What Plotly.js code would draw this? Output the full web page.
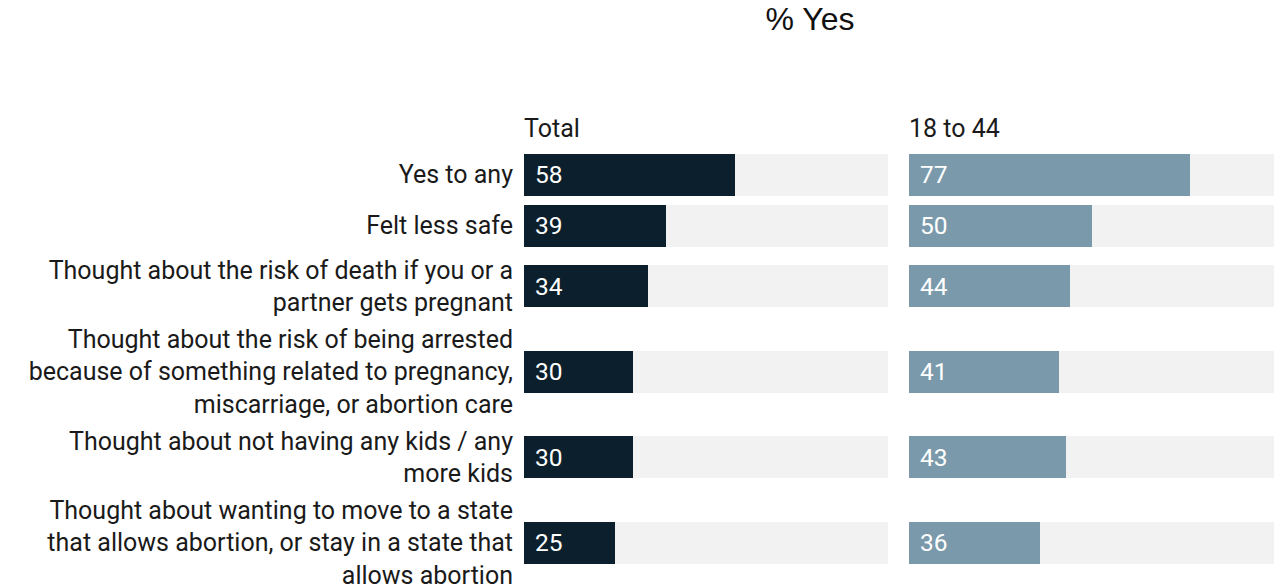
<!DOCTYPE html>
<html>
<head>
<meta charset="utf-8">
<script src="https://cdn.plot.ly/plotly-3.0.1.min.js"></script>
<style>html,body{margin:0;padding:0;background:#fff;}#chart{width:1286px;height:586px;}</style>
</head>
<body>
<div id="chart"></div>
<script>
const categories = [
  "Yes to any",
  "Felt less safe",
  "Thought about the risk of death if you or a<br>partner gets pregnant",
  "Thought about the risk of being arrested<br>because of something related to pregnancy,<br>miscarriage, or abortion care",
  "Thought about not having any kids / any<br>more kids",
  "Thought about wanting to move to a state<br>that allows abortion, or stay in a state that<br>allows abortion"
];
const totalValues = [58, 39, 34, 30, 30, 25];
const age18to44Values = [77, 50, 44, 41, 43, 36];
const panelTitles = ["Total", "18 to 44"];
const chartTitle = "% Yes";
const maxValue = 100;

// Row layout: row height depends on how many lines the category label takes
const rowHeights = categories.map(c => {
  const lines = c.split("<br>").length;
  return Math.max(51, 31 * lines + 8);
});
const rowPos = [];
let acc = 0;
rowHeights.forEach(h => { rowPos.push(acc + h / 2); acc += h; });

const FONT = "Roboto, 'Noto Sans', sans-serif";
const bgColor = "#f2f2f2";
const colors = ["#0b202c", "#7a9aab"];
const series = [totalValues, age18to44Values];

const traces = [];
const annotations = [];
series.forEach((vals, i) => {
  const xa = i === 0 ? "x" : "x2";
  traces.push({
    type: "bar", orientation: "h", xaxis: xa, yaxis: "y",
    y: rowPos, x: categories.map(() => maxValue),
    width: 42, marker: {color: bgColor}, hoverinfo: "skip", showlegend: false
  });
  traces.push({
    type: "bar", orientation: "h", xaxis: xa, yaxis: "y",
    y: rowPos, x: vals,
    width: 42, marker: {color: colors[i]}, showlegend: false,
    hovertemplate: "%{x}<extra></extra>"
  });
  vals.forEach((v, k) => {
    annotations.push({
      xref: xa, yref: "y", x: 0, y: rowPos[k], text: String(v),
      xanchor: "left", yanchor: "middle", xshift: 9, showarrow: false,
      font: {family: FONT, size: 24.5, color: "#ffffff"}
    });
  });
  annotations.push({
    xref: (i === 0 ? "x" : "x2") + " domain", yref: "paper", x: 0, y: 1,
    xanchor: "left", yanchor: "bottom", yshift: 4, xshift: -2, showarrow: false,
    text: panelTitles[i], font: {family: FONT, size: 25, color: "#1a1a1a"}
  });
});

const W = 1274; // plot width with l=0, r=12
const layout = {
  width: 1286, height: 586,
  margin: {l: 0, r: 12, t: 149, b: 0},
  paper_bgcolor: "#ffffff", plot_bgcolor: "#ffffff",
  barmode: "overlay", bargap: 0,
  title: {
    text: chartTitle, xref: "container", yref: "container",
    x: 810 / 1286, xanchor: "center", y: 1 - 8 / 586, yanchor: "top",
    font: {family: "'Liberation Sans', Arial, sans-serif", size: 32, color: "#111111"}
  },
  xaxis: {domain: [524 / W, 888 / W], range: [0, maxValue], showgrid: false, zeroline: false,
          showticklabels: false, fixedrange: true},
  xaxis2: {domain: [909 / W, 1], range: [0, maxValue], showgrid: false, zeroline: false,
           showticklabels: false, fixedrange: true},
  yaxis: {range: [437, 0], tickvals: rowPos, ticktext: categories, showgrid: false,
          zeroline: false, ticks: "", automargin: false, ticklabelstandoff: 10,
          ticklabeloverflow: "allow",
          tickfont: {family: FONT, size: 25, color: "#1a1a1a"}},
  annotations: annotations,
  showlegend: false
};

Plotly.newPlot("chart", traces, layout, {displayModeBar: false, staticPlot: true});
</script>
</body>
</html>
